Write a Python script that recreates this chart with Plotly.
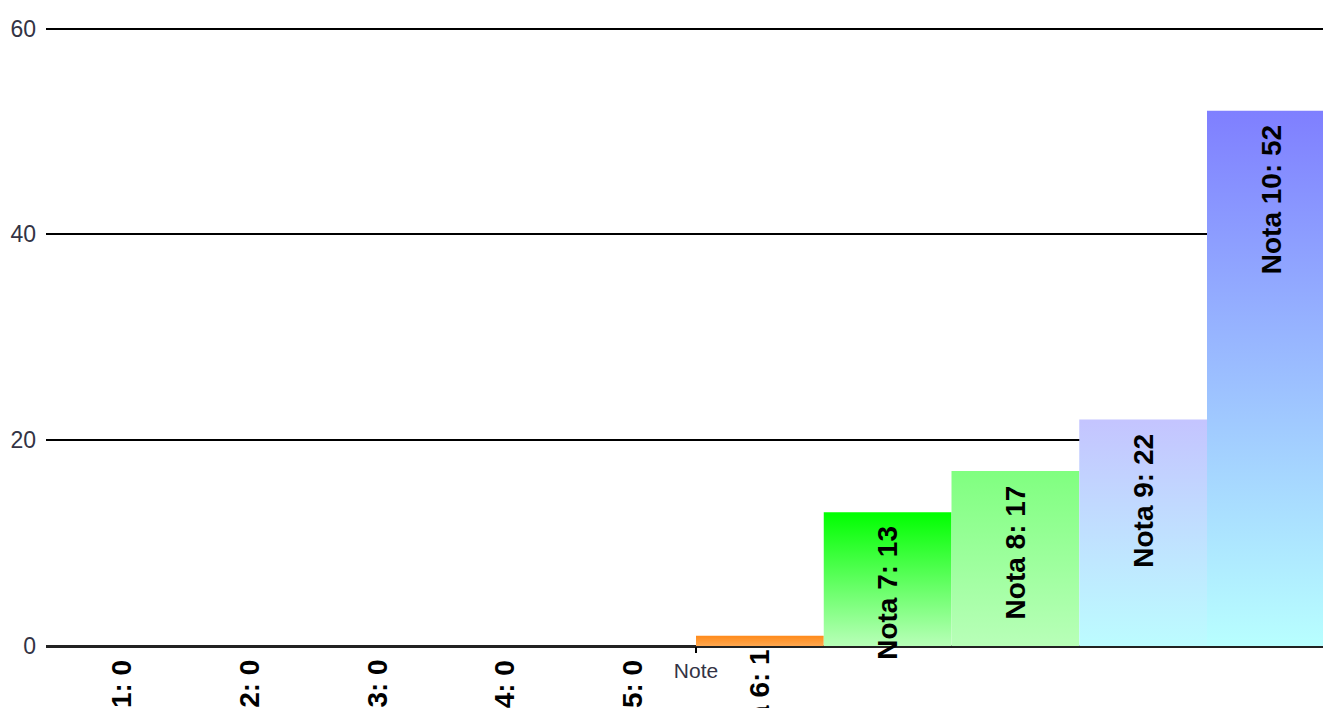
import plotly.graph_objects as go

# ---- data ----
categories = [1, 2, 3, 4, 5, 6, 7, 8, 9, 10]
label_prefix = "Nota"
values = [0, 0, 0, 0, 0, 1, 13, 17, 22, 52]
axis_title = "Note"
y_ticks = [0, 20, 40, 60]

# ---- style ----
top_colors = ["#ff8a1a"] * 6 + ["#00ff00", "#80ff80", "#c4c4ff", "#7f7fff"]
bottom_colors = ["#ffa850"] * 6 + ["#b8ffb8", "#b8ffb8", "#bcfcff", "#b8ffff"]
half_width = 0.5

fig = go.Figure()

for cat, val, top, bot in zip(categories, values, top_colors, bottom_colors):
    if val <= 0:
        continue
    xs = [cat - half_width, cat - half_width, cat + half_width, cat + half_width, cat - half_width]
    ys = [0, val, val, 0, 0]
    fig.add_trace(go.Scatter(
        x=xs, y=ys, mode="lines", fill="toself",
        line=dict(width=0, color=top),
        fillgradient=dict(type="vertical", colorscale=[[0, bot], [1, top]]),
        hoverinfo="skip", showlegend=False,
    ))

for cat, val in zip(categories, values):
    fig.add_annotation(
        x=cat, y=val, xref="x", yref="y",
        text=f"<b>{label_prefix} {cat}: {val}</b>",
        textangle=-90, showarrow=False,
        xanchor="center", yanchor="top", yshift=-12,
        font=dict(family="Liberation Sans, Arial, sans-serif", size=28, color="#000000"),
    )

fig.update_layout(
    width=1323, height=708,
    margin=dict(l=46, r=0, t=27, b=62),
    paper_bgcolor="white", plot_bgcolor="white",
    showlegend=False,
    font=dict(family="Liberation Sans, Arial, sans-serif"),
    xaxis=dict(
        range=[0.412, 10.408], showgrid=False, zeroline=False,
        tickmode="array", tickvals=[5.5], ticktext=[axis_title],
        ticks="outside", ticklen=6, tickwidth=2, tickcolor="#000000",
        tickfont=dict(size=21, color="#333344"), fixedrange=True,
    ),
    yaxis=dict(
        range=[0, 60.15], tickmode="array", tickvals=y_ticks,
        showgrid=True, gridcolor="#000000", gridwidth=1.5,
        zeroline=True, zerolinecolor="#222222", zerolinewidth=2.5,
        tickfont=dict(size=23, color="#333344"), ticklabelstandoff=9,
        showline=False, fixedrange=True,
    ),
)

fig.write_html(
    "out.html",
    config={"displayModeBar": False},
    post_script="document.body.style.margin='0';document.body.style.overflow='hidden';",
)
